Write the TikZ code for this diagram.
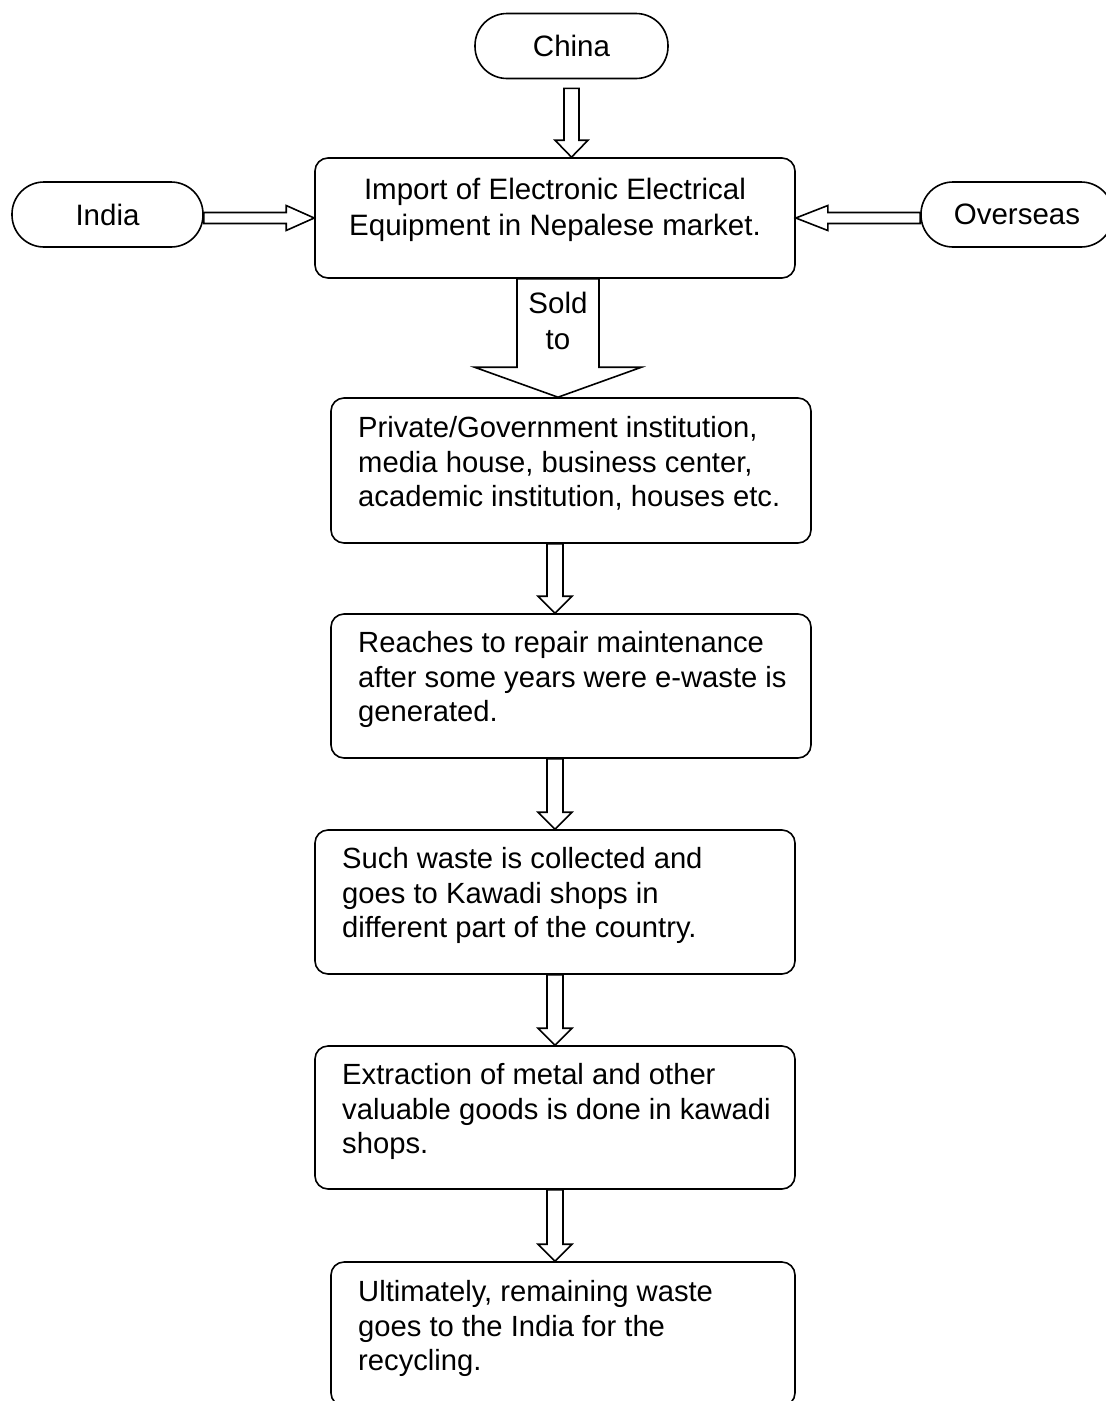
\documentclass[tikz,border=0pt]{standalone}
\usepackage{fontspec}
\setmainfont{Liberation Sans}
\usetikzlibrary{calc}
\tikzset{
  stadium/.style={draw, line width=1.6pt, rounded corners=32pt, minimum height=65pt, inner sep=0pt, font=\fontsize{29.5}{36}\selectfont},
  procbox/.style={draw, line width=1.6pt, rounded corners=13pt, inner sep=0pt},
  boxtext/.style={inner sep=0pt, align=left, font=\fontsize{29.2}{34.5}\selectfont},
  ctrtext/.style={inner sep=0pt, align=center, font=\fontsize{29.5}{36}\selectfont},
  hollow/.style={draw, line width=1.6pt, line join=miter},
}
% #1 start (top centre), #2 tip, #3 shaft half width, #4 head half width, #5 head length
\newcommand\vArrow[5]{%
  \draw[hollow] let \p1=(#1), \p2=(#2) in
   (\x2-#3pt,\y1) -- (\x2-#3pt,\y2+#5pt) -- (\x2-#4pt,\y2+#5pt) -- (\x2,\y2)
   -- (\x2+#4pt,\y2+#5pt) -- (\x2+#3pt,\y2+#5pt) -- (\x2+#3pt,\y1) -- cycle;}
\newcommand\rArrow[5]{%
  \draw[hollow] let \p1=(#1), \p2=(#2) in
   (\x1,\y2+#3pt) -- (\x2-#5pt,\y2+#3pt) -- (\x2-#5pt,\y2+#4pt) -- (\x2,\y2)
   -- (\x2-#5pt,\y2-#4pt) -- (\x2-#5pt,\y2-#3pt) -- (\x1,\y2-#3pt) -- cycle;}
\newcommand\lArrow[5]{%
  \draw[hollow] let \p1=(#1), \p2=(#2) in
   (\x1,\y2+#3pt) -- (\x2+#5pt,\y2+#3pt) -- (\x2+#5pt,\y2+#4pt) -- (\x2,\y2)
   -- (\x2+#5pt,\y2-#4pt) -- (\x2+#5pt,\y2-#3pt) -- (\x1,\y2-#3pt) -- cycle;}
\begin{document}
\begin{tikzpicture}[x=1pt,y=-1pt]
\useasboundingbox (0,0) rectangle (1106,1401);
% sources
\node[stadium, minimum width=193pt] (china) at (571.5,46) {China};
\node[stadium, minimum width=191pt] (india) at (107.5,214.5) {India};
\node[stadium, minimum width=192pt] (overseas) at (1017,214.5) {Overseas};
% import box
\node[procbox, minimum width=480pt, minimum height=120pt] (imp) at (555,218) {};
\node[ctrtext, anchor=north] (imptext) at (555,177.5) {Import of Electronic Electrical\\Equipment in Nepalese market.};
% process boxes
\node[procbox, minimum width=480pt, minimum height=145pt] (b2) at (571,470.5) {};
\node[procbox, minimum width=480pt, minimum height=144pt] (b3) at (571,686) {};
\node[procbox, minimum width=480pt, minimum height=144pt] (b4) at (555,902) {};
\node[procbox, minimum width=480pt, minimum height=143pt] (b5) at (555,1117.5) {};
\node[procbox, minimum width=464pt, minimum height=144pt] (b6) at (563,1334) {};
\node[boxtext, anchor=north west] (t2) at (358,416.5) {Private/Government institution,\\media house, business center,\\academic institution, houses etc.};
\node[boxtext, anchor=north west] (t3) at (358,631.5) {Reaches to repair maintenance\\after some years were e-waste is\\generated.};
\node[boxtext, anchor=north west] (t4) at (342,847.5) {Such waste is collected and\\goes to Kawadi shops in\\different part of the country.};
\node[boxtext, anchor=north west] (t5) at (342,1063.5) {Extraction of metal and other\\valuable goods is done in kawadi\\shops.};
\node[boxtext, anchor=north west] (t6) at (358,1280.5) {Ultimately, remaining waste\\goes to the India for the\\recycling.};
% arrows
\vArrow{$(china.south)+(0,9)$}{china.south |- imp.north}{7.5}{16.5}{17}
\rArrow{india.east |- imp.west}{imp.west}{5.5}{12.5}{28}
\lArrow{overseas.west |- imp.east}{imp.east}{5.5}{12.5}{32}
\coordinate (soldtop) at ($(imp.south)+(3,0)$);
\vArrow{soldtop}{soldtop |- b2.north}{41}{83.5}{30}
\node[ctrtext, anchor=north] (sold) at (558,291.5) {Sold\\to};
\vArrow{imp.south |- b2.south}{imp.south |- b3.north}{8}{17}{17}
\vArrow{imp.south |- b3.south}{imp.south |- b4.north}{8}{17}{17}
\vArrow{imp.south |- b4.south}{imp.south |- b5.north}{8}{17}{17}
\vArrow{imp.south |- b5.south}{imp.south |- b6.north}{8}{17}{17}
\end{tikzpicture}
\end{document}
